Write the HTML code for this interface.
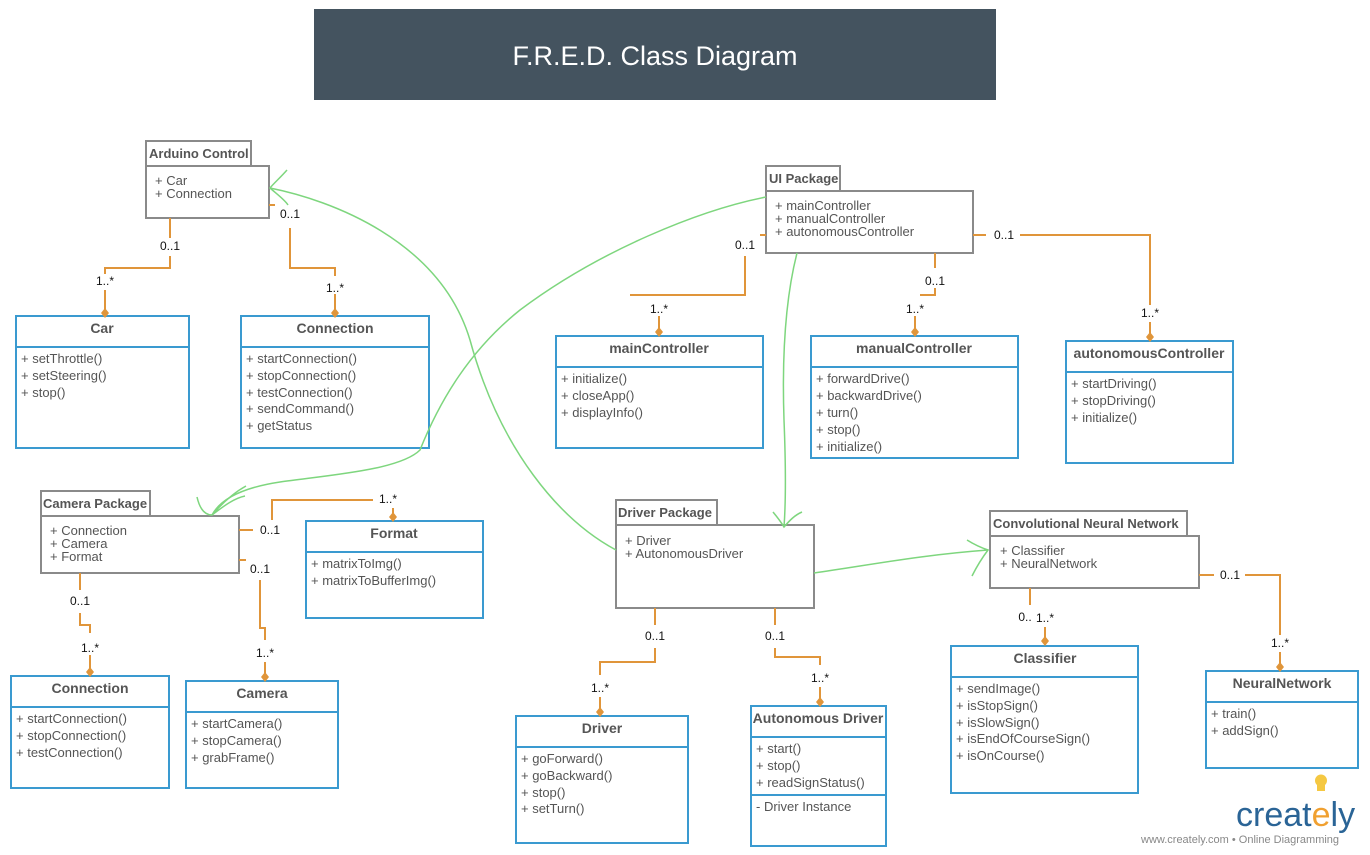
<!DOCTYPE html>
<html><head><meta charset="utf-8"><style>
html,body{margin:0;padding:0;background:#fff;}
svg{display:block;font-family:"Liberation Sans",sans-serif;}
.pk{fill:#fff;stroke:#8a8a8a;stroke-width:2;}
.cl{fill:#fff;stroke:#3a9ad0;stroke-width:2;}
.dv{stroke:#3a9ad0;stroke-width:2;}
.pt{font-size:13px;font-weight:bold;fill:#555;}
.ct{font-size:14px;font-weight:bold;fill:#555;text-anchor:middle;}
.m{font-size:13px;fill:#555;}
.o{fill:none;stroke:#e0953a;stroke-width:2;}
.l{font-size:12px;fill:#111;text-anchor:middle;}
.g{fill:none;stroke:#7ed67e;stroke-width:1.5;}
.d{fill:#e0953a;}
</style></head><body>
<svg width="1370" height="855" viewBox="0 0 1370 855">
<rect x="314" y="9" width="682" height="91" fill="#44535f"/>
<text x="655" y="65" font-size="27" fill="#fff" text-anchor="middle">F.R.E.D. Class Diagram</text>

<rect class="pk" x="146" y="141" width="105" height="25"/><text class="pt" x="149" y="158">Arduino Control</text>
<rect class="pk" x="146" y="166" width="123" height="52"/>
<text class="m" x="155" y="185">+ Car</text><text class="m" x="155" y="198">+ Connection</text>

<rect class="pk" x="766" y="166" width="74" height="25"/><text class="pt" x="769" y="183">UI Package</text>
<rect class="pk" x="766" y="191" width="207" height="62"/>
<text class="m" x="775" y="210">+ mainController</text><text class="m" x="775" y="223">+ manualController</text><text class="m" x="775" y="236">+ autonomousController</text>

<rect class="pk" x="41" y="491" width="109" height="25"/><text class="pt" x="43" y="508">Camera Package</text>
<rect class="pk" x="41" y="516" width="198" height="57"/>
<text class="m" x="50" y="535">+ Connection</text><text class="m" x="50" y="548">+ Camera</text><text class="m" x="50" y="561">+ Format</text>

<rect class="pk" x="616" y="500" width="101" height="25"/><text class="pt" x="618" y="517">Driver Package</text>
<rect class="pk" x="616" y="525" width="198" height="83"/>
<text class="m" x="625" y="545">+ Driver</text><text class="m" x="625" y="558">+ AutonomousDriver</text>

<rect class="pk" x="990" y="511" width="197" height="25"/><text class="pt" x="993" y="528">Convolutional Neural Network</text>
<rect class="pk" x="990" y="536" width="209" height="52"/>
<text class="m" x="1000" y="555">+ Classifier</text><text class="m" x="1000" y="568">+ NeuralNetwork</text>

<rect class="cl" x="16" y="316" width="173" height="132"/><line class="dv" x1="16" y1="347" x2="189" y2="347"/>
<text class="ct" x="102" y="333">Car</text>
<text class="m" x="21" y="363">+ setThrottle()</text><text class="m" x="21" y="380">+ setSteering()</text><text class="m" x="21" y="397">+ stop()</text>

<rect class="cl" x="241" y="316" width="188" height="132"/><line class="dv" x1="241" y1="347" x2="429" y2="347"/>
<text class="ct" x="335" y="333">Connection</text>
<text class="m" x="246" y="363">+ startConnection()</text><text class="m" x="246" y="380">+ stopConnection()</text><text class="m" x="246" y="397">+ testConnection()</text><text class="m" x="246" y="413">+ sendCommand()</text><text class="m" x="246" y="430">+ getStatus</text>

<rect class="cl" x="556" y="336" width="207" height="112"/><line class="dv" x1="556" y1="367" x2="763" y2="367"/>
<text class="ct" x="659" y="353">mainController</text>
<text class="m" x="561" y="383">+ initialize()</text><text class="m" x="561" y="400">+ closeApp()</text><text class="m" x="561" y="417">+ displayInfo()</text>

<rect class="cl" x="811" y="336" width="207" height="122"/><line class="dv" x1="811" y1="367" x2="1018" y2="367"/>
<text class="ct" x="914" y="353">manualController</text>
<text class="m" x="816" y="383">+ forwardDrive()</text><text class="m" x="816" y="400">+ backwardDrive()</text><text class="m" x="816" y="417">+ turn()</text><text class="m" x="816" y="434">+ stop()</text><text class="m" x="816" y="451">+ initialize()</text>

<rect class="cl" x="1066" y="341" width="167" height="122"/><line class="dv" x1="1066" y1="372" x2="1233" y2="372"/>
<text class="ct" x="1149" y="358">autonomousController</text>
<text class="m" x="1071" y="388">+ startDriving()</text><text class="m" x="1071" y="405">+ stopDriving()</text><text class="m" x="1071" y="422">+ initialize()</text>

<rect class="cl" x="306" y="521" width="177" height="97"/><line class="dv" x1="306" y1="552" x2="483" y2="552"/>
<text class="ct" x="394" y="538">Format</text>
<text class="m" x="311" y="568">+ matrixToImg()</text><text class="m" x="311" y="585">+ matrixToBufferImg()</text>

<rect class="cl" x="11" y="676" width="158" height="112"/><line class="dv" x1="11" y1="707" x2="169" y2="707"/>
<text class="ct" x="90" y="693">Connection</text>
<text class="m" x="16" y="723">+ startConnection()</text><text class="m" x="16" y="740">+ stopConnection()</text><text class="m" x="16" y="757">+ testConnection()</text>

<rect class="cl" x="186" y="681" width="152" height="107"/><line class="dv" x1="186" y1="712" x2="338" y2="712"/>
<text class="ct" x="262" y="698">Camera</text>
<text class="m" x="191" y="728">+ startCamera()</text><text class="m" x="191" y="745">+ stopCamera()</text><text class="m" x="191" y="762">+ grabFrame()</text>

<rect class="cl" x="516" y="716" width="172" height="127"/><line class="dv" x1="516" y1="747" x2="688" y2="747"/>
<text class="ct" x="602" y="733">Driver</text>
<text class="m" x="521" y="763">+ goForward()</text><text class="m" x="521" y="780">+ goBackward()</text><text class="m" x="521" y="797">+ stop()</text><text class="m" x="521" y="813">+ setTurn()</text>

<rect class="cl" x="751" y="706" width="135" height="140"/><line class="dv" x1="751" y1="737" x2="886" y2="737"/><line class="dv" x1="751" y1="795" x2="886" y2="795"/>
<text class="ct" x="818" y="723" font-size="13">Autonomous Driver</text>
<text class="m" x="756" y="753">+ start()</text><text class="m" x="756" y="770">+ stop()</text><text class="m" x="756" y="787">+ readSignStatus()</text><text class="m" x="756" y="811">- Driver Instance</text>

<rect class="cl" x="951" y="646" width="187" height="147"/><line class="dv" x1="951" y1="677" x2="1138" y2="677"/>
<text class="ct" x="1045" y="663">Classifier</text>
<text class="m" x="956" y="693">+ sendImage()</text><text class="m" x="956" y="710">+ isStopSign()</text><text class="m" x="956" y="727">+ isSlowSign()</text><text class="m" x="956" y="743">+ isEndOfCourseSign()</text><text class="m" x="956" y="760">+ isOnCourse()</text>

<rect class="cl" x="1206" y="671" width="152" height="97"/><line class="dv" x1="1206" y1="702" x2="1358" y2="702"/>
<text class="ct" x="1282" y="688">NeuralNetwork</text>
<text class="m" x="1211" y="718">+ train()</text><text class="m" x="1211" y="735">+ addSign()</text>

<path class="o" d="M170 218V238M170 256V268H105V274M105 290V312"/>
<text class="l" x="170" y="250">0..1</text><text class="l" x="105" y="285">1..*</text>
<path class="d" d="M105 308l4 5-4 5-4-5z"/>
<path class="o" d="M269 205H275M290 228V268H335V276M335 294V312"/>
<text class="l" x="290" y="218">0..1</text><text class="l" x="335" y="292">1..*</text>
<path class="d" d="M335 308l4 5-4 5-4-5z"/>

<path class="o" d="M760 235H766M745 256V295H630M659 316V332"/>
<text class="l" x="745" y="249">0..1</text><text class="l" x="659" y="313">1..*</text>
<path class="d" d="M659 327l4 5-4 5-4-5z"/>
<path class="o" d="M935 253V268M935 288V295H920M915 316V332"/>
<text class="l" x="935" y="285">0..1</text><text class="l" x="915" y="313">1..*</text>
<path class="d" d="M915 327l4 5-4 5-4-5z"/>
<path class="o" d="M973 235H986M1020 235H1150V305M1150 322V337"/>
<text class="l" x="1004" y="239">0..1</text><text class="l" x="1150" y="317">1..*</text>
<path class="d" d="M1150 332l4 5-4 5-4-5z"/>

<path class="o" d="M239 530H253M272 520V500H373M393 508V517"/>
<text class="l" x="270" y="534">0..1</text><text class="l" x="388" y="503">1..*</text>
<path class="d" d="M393 512l4 5-4 5-4-5z"/>
<path class="o" d="M80 573V590M80 613V625H90V633M90 655V671"/>
<text class="l" x="80" y="605">0..1</text><text class="l" x="90" y="652">1..*</text>
<path class="d" d="M90 667l4 5-4 5-4-5z"/>
<path class="o" d="M239 560H246M260 580V628H265V640M265 662V676"/>
<text class="l" x="260" y="573">0..1</text><text class="l" x="265" y="657">1..*</text>
<path class="d" d="M265 672l4 5-4 5-4-5z"/>

<path class="o" d="M655 608V625M655 648V662H600V675M600 697V712"/>
<text class="l" x="655" y="640">0..1</text><text class="l" x="600" y="692">1..*</text>
<path class="d" d="M600 707l4 5-4 5-4-5z"/>
<path class="o" d="M775 608V625M775 648V657H820V665M820 687V702"/>
<text class="l" x="775" y="640">0..1</text><text class="l" x="820" y="682">1..*</text>
<path class="d" d="M820 697l4 5-4 5-4-5z"/>

<path class="o" d="M1030 588V605M1045 627V642"/>
<text class="l" x="1025" y="621">0..</text><text class="l" x="1045" y="622">1..*</text>
<path class="d" d="M1045 636l4 5-4 5-4-5z"/>
<path class="o" d="M1199 575H1214M1245 575H1280V635M1280 652V667"/>
<text class="l" x="1230" y="579">0..1</text><text class="l" x="1280" y="647">1..*</text>
<path class="d" d="M1280 662l4 5-4 5-4-5z"/>

<path class="g" d="M766 197C700 210 600 250 520 310C470 350 440 400 420 450C400 470 330 475 280 482C240 488 220 500 212 515"/>
<path class="g" d="M197 497C200 510 205 515 212 515C225 500 235 492 246 486M212 515C225 505 235 498 245 496"/>
<path class="g" d="M616 550C560 520 500 450 470 340C440 240 330 200 270 188"/>
<path class="g" d="M287 170C280 178 274 183 270 188C278 195 285 200 288 205"/>
<path class="g" d="M797 253C785 300 782 360 784 420C786 470 786 500 784 527"/>
<path class="g" d="M773 512C778 518 781 522 784 527C790 520 795 515 802 512"/>
<path class="g" d="M814 573C870 565 920 555 988 550"/>
<path class="g" d="M967 540C975 545 982 548 988 550C982 558 976 568 972 576"/>

<path d="M1317 785a6 6 0 1 1 8 0v6h-8z" fill="#f5c842"/>
<text x="1236" y="826" font-size="34" fill="#2a6496">creat<tspan fill="#f0a030">e</tspan>ly</text>
<text x="1141" y="843" font-size="11" fill="#888">www.creately.com • Online Diagramming</text>
</svg>
</body></html>
